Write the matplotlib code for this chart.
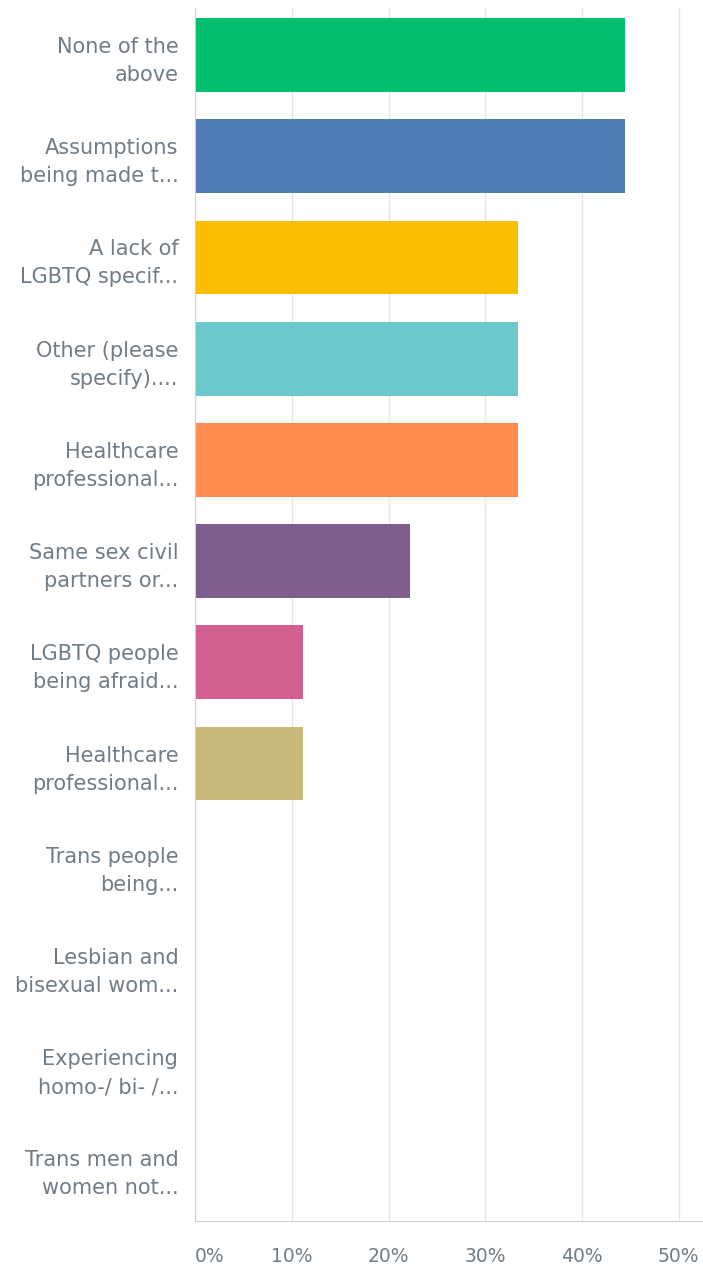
import matplotlib.pyplot as plt

plt.rcParams['font.family'] = ['DejaVu Sans']

labels = ['None of the\nabove', 'Assumptions\nbeing made t...', 'A lack of\nLGBTQ specif...',
          'Other (please\nspecify)....', 'Healthcare\nprofessional...', 'Same sex civil\npartners or...',
          'LGBTQ people\nbeing afraid...', 'Healthcare\nprofessional...', 'Trans people\nbeing...',
          'Lesbian and\nbisexual wom...', 'Experiencing\nhomo-/ bi- /...', 'Trans men and\nwomen not...']
values = [44.44, 44.44, 33.33, 33.33, 33.33, 22.22, 11.11, 11.11, 0, 0, 0, 0]
colors = ['#00bf6f', '#507cb6', '#f9be00', '#6bc8cd', '#ff8b4f', '#7d5e8c',
          '#d25f90', '#c8b87b', '#00bf6f', '#507cb6', '#f9be00', '#6bc8cd']
xticks = [0, 10, 20, 30, 40, 50]
xticklabels = ['0%', '10%', '20%', '30%', '40%', '50%']

fig = plt.figure(figsize=(7.03, 12.68), dpi=100)
ax = fig.add_axes([0.2774, 0.0371, 0.7226, 0.9566])

ypos = list(range(len(labels)))
ax.barh(ypos, values, height=0.73, color=colors, zorder=2)

ax.set_xlim(0, 52.5)
ax.set_ylim(11.52, -0.465)
ax.set_yticks(ypos)
ax.set_yticklabels(labels, fontsize=15, color='#707c86', linespacing=1.5)
ax.set_xticks(xticks)
ax.set_xticklabels(xticklabels, fontsize=13.5, color='#707c86')
ax.get_xticklabels()[0].set_horizontalalignment('left')
ax.tick_params(axis='y', length=0, pad=12)
ax.tick_params(axis='x', length=0, pad=19)

ax.grid(axis='x', color='#e6e6e6', linewidth=1, zorder=0)
for s in ['top', 'right']:
    ax.spines[s].set_visible(False)
ax.spines['left'].set_color('#d0d0d0')
ax.spines['bottom'].set_color('#d0d0d0')

fig.savefig('out.png', dpi=100)
